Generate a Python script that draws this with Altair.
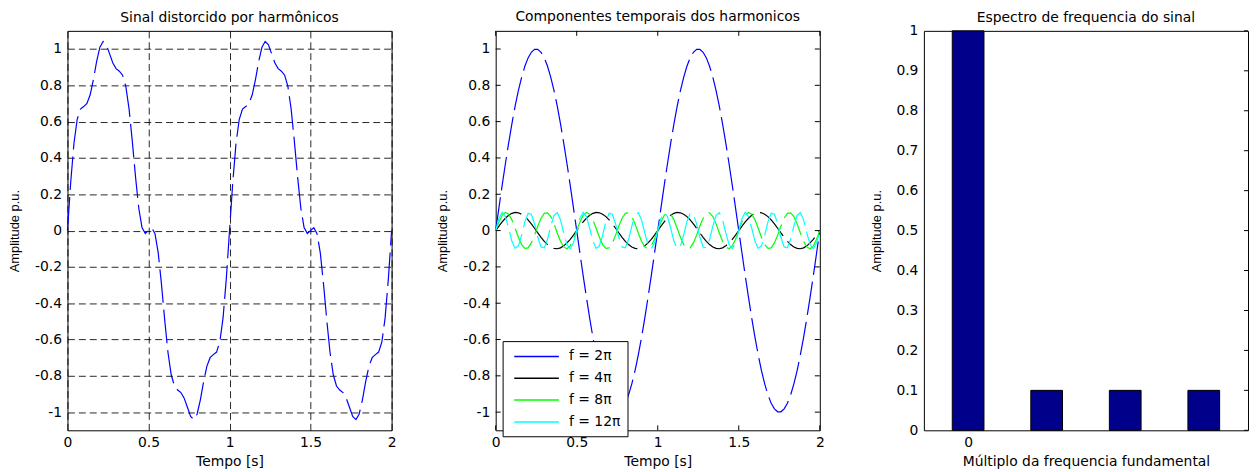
import altair as alt
import pandas as pd

FONT = "DejaVu Sans"
W, H = 327, 403

tempo = [0.0, 0.02, 0.04, 0.06, 0.08, 0.1, 0.12, 0.14, 0.16, 0.18,
         0.2, 0.22, 0.24, 0.26, 0.28, 0.3, 0.32, 0.34, 0.36, 0.38,
         0.4, 0.42, 0.44, 0.46, 0.48, 0.5, 0.52, 0.54, 0.56, 0.58,
         0.6, 0.62, 0.64, 0.66, 0.68, 0.7, 0.72, 0.74, 0.76, 0.78,
         0.8, 0.82, 0.84, 0.86, 0.88, 0.9, 0.92, 0.94, 0.96, 0.98,
         1.0, 1.02, 1.04, 1.06, 1.08, 1.1, 1.12, 1.14, 1.16, 1.18,
         1.2, 1.22, 1.24, 1.26, 1.28, 1.3, 1.32, 1.34, 1.36, 1.38,
         1.4, 1.42, 1.44, 1.46, 1.48, 1.5, 1.52, 1.54, 1.56, 1.58,
         1.6, 1.62, 1.64, 1.66, 1.68, 1.7, 1.72, 1.74, 1.76, 1.78,
         1.8, 1.82, 1.84, 1.86, 1.88, 1.9, 1.92, 1.94, 1.96, 1.98, 2.0]

sinal = [0.0, 0.266, 0.481, 0.613, 0.669, 0.683, 0.700, 0.748, 0.832, 0.932,
         1.010, 1.041, 1.023, 0.973, 0.923, 0.892, 0.878, 0.856, 0.794, 0.670,
         0.493, 0.295, 0.123, 0.017, -0.016, 0.0, 0.016, -0.017, -0.123, -0.295,
         -0.493, -0.670, -0.794, -0.856, -0.878, -0.892, -0.923, -0.973, -1.023, -1.041,
         -1.010, -0.932, -0.832, -0.748, -0.700, -0.683, -0.669, -0.613, -0.481, -0.266,
         0.0, 0.266, 0.481, 0.613, 0.669, 0.683, 0.700, 0.748, 0.832, 0.932,
         1.010, 1.041, 1.023, 0.973, 0.923, 0.892, 0.878, 0.856, 0.794, 0.670,
         0.493, 0.295, 0.123, 0.017, -0.016, 0.0, 0.016, -0.017, -0.123, -0.295,
         -0.493, -0.670, -0.794, -0.856, -0.878, -0.892, -0.923, -0.973, -1.023, -1.041,
         -1.010, -0.932, -0.832, -0.748, -0.700, -0.683, -0.669, -0.613, -0.481, -0.266,
         0.0]

harm_2pi = [0.0, 0.125, 0.249, 0.368, 0.482, 0.588, 0.685, 0.771, 0.844, 0.905,
            0.951, 0.982, 0.998, 0.998, 0.982, 0.951, 0.905, 0.844, 0.771, 0.685,
            0.588, 0.482, 0.368, 0.249, 0.125, 0.0, -0.125, -0.249, -0.368, -0.482,
            -0.588, -0.685, -0.771, -0.844, -0.905, -0.951, -0.982, -0.998, -0.998, -0.982,
            -0.951, -0.905, -0.844, -0.771, -0.685, -0.588, -0.482, -0.368, -0.249, -0.125,
            0.0, 0.125, 0.249, 0.368, 0.482, 0.588, 0.685, 0.771, 0.844, 0.905,
            0.951, 0.982, 0.998, 0.998, 0.982, 0.951, 0.905, 0.844, 0.771, 0.685,
            0.588, 0.482, 0.368, 0.249, 0.125, 0.0, -0.125, -0.249, -0.368, -0.482,
            -0.588, -0.685, -0.771, -0.844, -0.905, -0.951, -0.982, -0.998, -0.998, -0.982,
            -0.951, -0.905, -0.844, -0.771, -0.685, -0.588, -0.482, -0.368, -0.249, -0.125,
            0.0]

harm_4pi = [0.0, 0.025, 0.048, 0.068, 0.084, 0.095, 0.100, 0.098, 0.090, 0.077, 0.059, 0.037, 0.013,
            -0.013, -0.037, -0.059, -0.077, -0.090, -0.098, -0.100, -0.095, -0.084, -0.068, -0.048, -0.025,
            0.0, 0.025, 0.048, 0.068, 0.084, 0.095, 0.100, 0.098, 0.090, 0.077, 0.059, 0.037, 0.013,
            -0.013, -0.037, -0.059, -0.077, -0.090, -0.098, -0.100, -0.095, -0.084, -0.068, -0.048, -0.025,
            0.0, 0.025, 0.048, 0.068, 0.084, 0.095, 0.100, 0.098, 0.090, 0.077, 0.059, 0.037, 0.013,
            -0.013, -0.037, -0.059, -0.077, -0.090, -0.098, -0.100, -0.095, -0.084, -0.068, -0.048, -0.025,
            0.0, 0.025, 0.048, 0.068, 0.084, 0.095, 0.100, 0.098, 0.090, 0.077, 0.059, 0.037, 0.013,
            -0.013, -0.037, -0.059, -0.077, -0.090, -0.098, -0.100, -0.095, -0.084, -0.068, -0.048, -0.025,
            0.0]

harm_8pi = [0.0, 0.048, 0.084, 0.100, 0.090, 0.059, 0.013, -0.037, -0.077, -0.098, -0.095, -0.068, -0.025,
            0.025, 0.068, 0.095, 0.098, 0.077, 0.037, -0.013, -0.059, -0.090, -0.100, -0.084, -0.048,
            0.0, 0.048, 0.084, 0.100, 0.090, 0.059, 0.013, -0.037, -0.077, -0.098, -0.095, -0.068, -0.025,
            0.025, 0.068, 0.095, 0.098, 0.077, 0.037, -0.013, -0.059, -0.090, -0.100, -0.084, -0.048,
            0.0, 0.048, 0.084, 0.100, 0.090, 0.059, 0.013, -0.037, -0.077, -0.098, -0.095, -0.068, -0.025,
            0.025, 0.068, 0.095, 0.098, 0.077, 0.037, -0.013, -0.059, -0.090, -0.100, -0.084, -0.048,
            0.0, 0.048, 0.084, 0.100, 0.090, 0.059, 0.013, -0.037, -0.077, -0.098, -0.095, -0.068, -0.025,
            0.025, 0.068, 0.095, 0.098, 0.077, 0.037, -0.013, -0.059, -0.090, -0.100, -0.084, -0.048,
            0.0]

harm_12pi = [0.0, 0.068, 0.100, 0.077, 0.013, -0.059, -0.098, -0.084, -0.025, 0.048, 0.095, 0.090, 0.037,
             -0.037, -0.090, -0.095, -0.048, 0.025, 0.084, 0.098, 0.059, -0.013, -0.077, -0.100, -0.068,
             0.0, 0.068, 0.100, 0.077, 0.013, -0.059, -0.098, -0.084, -0.025, 0.048, 0.095, 0.090, 0.037,
             -0.037, -0.090, -0.095, -0.048, 0.025, 0.084, 0.098, 0.059, -0.013, -0.077, -0.100, -0.068,
             0.0, 0.068, 0.100, 0.077, 0.013, -0.059, -0.098, -0.084, -0.025, 0.048, 0.095, 0.090, 0.037,
             -0.037, -0.090, -0.095, -0.048, 0.025, 0.084, 0.098, 0.059, -0.013, -0.077, -0.100, -0.068,
             0.0, 0.068, 0.100, 0.077, 0.013, -0.059, -0.098, -0.084, -0.025, 0.048, 0.095, 0.090, 0.037,
             -0.037, -0.090, -0.095, -0.048, 0.025, 0.084, 0.098, 0.059, -0.013, -0.077, -0.100, -0.068,
             0.0]

series_labels = ["f = 2π", "f = 4π", "f = 8π", "f = 12π"]
series_colors = ["#0000ff", "#000000", "#00ff00", "#00ffff"]

multiplos = [0, 1, 2, 3]
espectro = [1.0, 0.1, 0.1, 0.1]

y_ticks = [-1, -0.8, -0.6, -0.4, -0.2, 0, 0.2, 0.4, 0.6, 0.8, 1]
x_ticks = [0, 0.5, 1, 1.5, 2]
y3_ticks = [0, 0.1, 0.2, 0.3, 0.4, 0.5, 0.6, 0.7, 0.8, 0.9, 1]

DASH = [34, 7]

xs = alt.Scale(domain=[0, 2], nice=False, zero=False)
ys = alt.Scale(domain=[-1.1, 1.1], nice=False, zero=False)

# ---------------- panel 1 ----------------
df1 = pd.DataFrame({"t": tempo, "v": sinal})

p1 = alt.Chart(df1).mark_line(color="#0000ff", strokeWidth=1.2, strokeDash=DASH).encode(
    x=alt.X("t:Q", scale=xs, axis=alt.Axis(values=x_ticks, grid=True, gridDash=[7, 4], gridColor="#000000",
                                           gridOpacity=0.85, labelExpr="'' + datum.value", title="Tempo [s]")),
    y=alt.Y("v:Q", scale=ys, axis=alt.Axis(values=y_ticks, grid=True, gridDash=[7, 4], gridColor="#000000",
                                           gridOpacity=0.85, labelExpr="'' + datum.value", title="Amplitude p.u.")),
).properties(width=W, height=H, title="Sinal distorcido por harmônicos")

# ---------------- panel 2 ----------------
rows = []
for lab, vals in zip(series_labels, [harm_2pi, harm_4pi, harm_8pi, harm_12pi]):
    for t, v in zip(tempo, vals):
        rows.append({"t": t, "v": v, "serie": lab})
df2 = pd.DataFrame(rows)

ax2x = alt.Axis(values=x_ticks, grid=False, labelExpr="'' + datum.value", title="Tempo [s]")
ax2y = alt.Axis(values=y_ticks, grid=False, labelExpr="'' + datum.value", title="Amplitude p.u.")

lines2 = alt.Chart(df2).mark_line(strokeWidth=1.2, strokeDash=DASH).encode(
    x=alt.X("t:Q", scale=xs, axis=ax2x),
    y=alt.Y("v:Q", scale=ys, axis=ax2y),
    color=alt.Color("serie:N", sort=series_labels,
                    scale=alt.Scale(domain=series_labels, range=series_colors),
                    legend=alt.Legend(title=None, orient="none", legendX=7, legendY=313,
                                      symbolType="M-0.5,0H5.5", symbolSize=225, symbolStrokeWidth=1.5,
                                      symbolDash=[1, 0], symbolOffset=0,
                                      labelFont=FONT, labelFontSize=14, labelColor="black",
                                      labelOffset=43, fillColor="white", strokeColor="black",
                                      padding=7, rowPadding=6, cornerRadius=0)),
)

ydf = pd.DataFrame({"v": y_ticks})
xdf = pd.DataFrame({"t": x_ticks})
tl = alt.Chart(ydf).mark_rule(color="black", strokeWidth=1).encode(
    y=alt.Y("v:Q", scale=ys, axis=ax2y), x=alt.value(0), x2=alt.value(5))
tr = alt.Chart(ydf).mark_rule(color="black", strokeWidth=1).encode(
    y=alt.Y("v:Q", scale=ys, axis=ax2y), x=alt.value(W - 5), x2=alt.value(W))
tb = alt.Chart(xdf).mark_rule(color="black", strokeWidth=1).encode(
    x=alt.X("t:Q", scale=xs, axis=ax2x), y=alt.value(H - 5), y2=alt.value(H))
tt = alt.Chart(xdf).mark_rule(color="black", strokeWidth=1).encode(
    x=alt.X("t:Q", scale=xs, axis=ax2x), y=alt.value(0), y2=alt.value(5))

p2 = alt.layer(lines2, tl, tr, tb, tt).properties(
    width=W, height=H, title="Componentes temporais dos harmonicos")

# ---------------- panel 3 ----------------
df3 = pd.DataFrame({"k": multiplos, "amp": espectro})
xs3 = alt.Scale(domain=[-0.5, 3.5], nice=False, zero=False)
ys3 = alt.Scale(domain=[0, 1], nice=False)
ax3y = alt.Axis(values=y3_ticks, grid=False, labelExpr="'' + datum.value", title="Amplitude p.u.")

bars = alt.Chart(df3).mark_bar(size=32, color="#00008B", stroke="black", strokeWidth=1).encode(
    x=alt.X("k:Q", scale=xs3, axis=alt.Axis(values=[0], grid=False, labelExpr="'' + datum.value",
                                            title="Múltiplo da frequencia fundamental")),
    y=alt.Y("amp:Q", scale=ys3, axis=ax3y),
)
y3df = pd.DataFrame({"amp": y3_ticks})
tr3 = alt.Chart(y3df).mark_rule(color="black", strokeWidth=1).encode(
    y=alt.Y("amp:Q", scale=ys3, axis=ax3y), x=alt.value(W - 4), x2=alt.value(W))

p3 = alt.layer(bars, tr3).properties(
    width=W, height=H,
    title=alt.TitleParams("Espectro de frequencia do sinal", offset=-1))

inner = alt.hconcat(p1, p2, spacing=40).resolve_scale(
    x="independent", y="independent", color="independent").resolve_legend(color="independent")

chart = alt.hconcat(inner, p3, spacing=45).resolve_scale(
    x="independent", y="independent", color="independent").resolve_legend(color="independent").properties(
    padding={"left": 0, "top": 0, "right": 0, "bottom": 0}
).configure_view(
    stroke="black", strokeWidth=1
).configure_axis(
    labelFont=FONT, labelFontSize=14, labelColor="black", labelPadding=6, labelFlush=False,
    titleFont=FONT, titleFontSize=14, titleColor="black", titleFontWeight="normal",
    domain=False, ticks=False, tickSize=0,
).configure_axisX(
    labelPadding=5, titlePadding=6,
).configure_axisY(
    titleFont="Liberation Sans", titleFontSize=13, titlePadding=13,
).configure_title(
    font=FONT, fontSize=14, fontWeight="normal", color="black", offset=6, anchor="middle"
)

chart.save("out.html", embed_options={"renderer": "svg", "actions": False})
